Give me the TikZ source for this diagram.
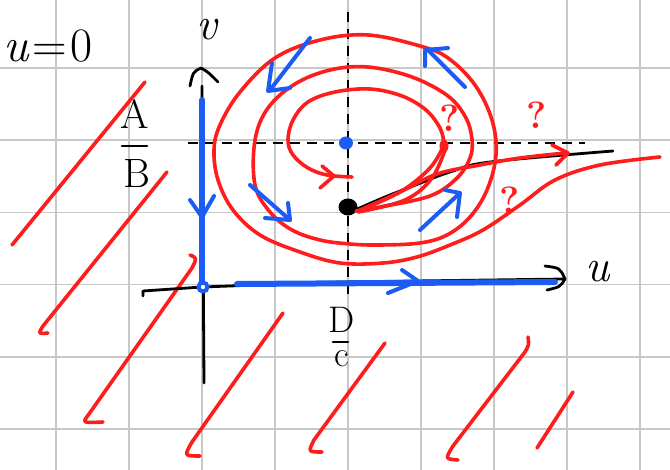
\documentclass[tikz,border=0pt]{standalone}
\usepackage{fontspec}
\usepackage{tikz}
\definecolor{penred}{RGB}{255,28,28}
\definecolor{penblue}{RGB}{28,92,245}
\definecolor{gridgray}{RGB}{200,200,200}
\begin{document}
\begin{tikzpicture}[x=1pt,y=-1pt,
  gridline/.style={draw=gridgray,line width=1.5pt},
  redpen/.style={draw=penred,line width=3.6pt,line cap=round,line join=round},
  bluepen/.style={draw=penblue,line width=4pt,line cap=round,line join=round},
  blueaxis/.style={draw=penblue,line width=6pt,line cap=round,line join=round},
  ink/.style={draw=black,line width=2.8pt,line cap=round,line join=round},
  dashink/.style={draw=black,line width=2.4pt,dash pattern=on 10pt off 7pt},
  lbl/.style={inner sep=0pt,text=black},
  qmark/.style={inner sep=0pt,text=penred,font=\fontsize{38}{40}\selectfont\bfseries}]
\useasboundingbox (0,0) rectangle (670,470);
\fill[white] (0,0) rectangle (670,470);
% grid
\foreach \gx in {56,129,202,275,348,421,494,567,640} \draw[gridline] (\gx,0) -- (\gx,470);
\foreach \gy in {68,140.2,212.4,284.6,356.8,429} \draw[gridline] (0,\gy) -- (670,\gy);
% red hatching
\draw[redpen] (145,82) -- (12,245);
\draw[redpen] (167,172) -- (43,326) .. controls (38,334) .. (48,333);
\draw[redpen] (190,255) .. controls (197,258) .. (192,268) -- (89,414) .. controls (82,423) .. (103,422);
\draw[redpen] (283,313) -- (192,442) .. controls (184,456) .. (200,456);
\draw[redpen] (385,343) -- (314,440) .. controls (308,452) .. (322,452);
\draw[redpen] (528,337) .. controls (529,345) .. (525,352) -- (453,446) .. controls (445,459) .. (458,460);
\draw[redpen] (573,392) -- (537,448);
% dashed lines
\draw[dashink] (348,12) -- (348,300);
\draw[dashink] (188,143) -- (585,143);
% black axes
\draw[ink] (202,86) -- (204,383);
\draw[ink] (190,86) .. controls (193,72) .. (201,68) .. controls (208,72) .. (218,82);
\draw[ink] (143,296) -- (143,291) -- (202,287) -- (340,282) -- (565,279);
\draw[ink] (545,266) .. controls (560,268) .. (565,279) .. controls (560,287) .. (547,290);
% black curve
\draw[ink] plot[smooth,tension=0.6] coordinates {(355,210) (385,197) (413,186) (450,172) (490,162) (613,151)};
% blue axes
\draw[blueaxis] (202,100) -- (202,284);
\draw[blueaxis] (237,284) -- (555,282);
\draw[bluepen] (190,200) -- (202,217) -- (214,196);
\draw[bluepen] (402,270) -- (418,281) -- (388,293);
\draw[draw=penblue,line width=4pt,fill=white] (203,287) circle (4.5);
\fill[penblue] (346,143) ellipse (7 and 6.5);
% black dot
\fill[black] (348,207) ellipse (9.5 and 8.5);
% red spirals
\draw[redpen] plot[smooth,tension=0.6] coordinates {(356,211) (380,207) (430,196) (457,178) (470,158) (472,140) (466,118) (448,96) (412,77) (368,67) (330,70) (295,84) (268,108) (255,140) (255,185) (270,212) (292,230) (320,240) (350,244) (380,245) (420,243) (447,235) (470,217) (487,190) (496,155) (492,120) (475,85) (448,58) (420,46) (368,35) (320,40) (275,58) (240,92) (220,125) (214,150) (218,180) (233,210) (260,235) (300,252) (340,263) (383,263) (417,257) (450,245) (483,230) (520,205) (555,180) (600,165) (660,157)};
\draw[redpen] plot[smooth,tension=0.6] coordinates {(352,177) (327,175) (308,168) (293,155) (288,140) (293,120) (308,102) (335,92) (370,89) (402,96) (426,110) (440,128) (444,143)};
\draw[redpen] plot[smooth,tension=0.6] coordinates {(358,211) (400,192) (430,168) (444,145)};
\draw[redpen] plot[smooth,tension=0.6] coordinates {(358,212) (405,200) (432,178) (446,147)};
\draw[redpen] plot[smooth,tension=0.6] coordinates {(358,211) (400,192) (437,174) (480,165) (520,158) (566,153)};
\fill[penred] (444,146) ellipse (4.5 and 6.5);
\draw[redpen] (322,166) -- (334,176) -- (320,188);
\draw[redpen] (552,145) -- (568,153) -- (556,165);
% blue arrows
\draw[bluepen] (310,38) -- (270,90);
\draw[bluepen] (272,63) -- (268,91) -- (290,88);
\draw[bluepen] (465,87) -- (428,50);
\draw[bluepen] (425,66) -- (425,50) -- (448,48);
\draw[bluepen] (250,185) -- (290,220);
\draw[bluepen] (265,218) -- (290,220) -- (288,203);
\draw[bluepen] (420,230) -- (460,193);
\draw[bluepen] (445,190) -- (460,193) -- (457,217);
% labels
\node[lbl,anchor=base west,font=\fontsize{48}{50}\selectfont] (eqlbl) at (3,62) {\itshape u\upshape\hspace{4pt}=\hspace{4pt}0};
\node[lbl,font=\fontsize{46}{48}\selectfont\itshape] (vlbl) at (207,30) {v};
\node[lbl,font=\fontsize{46}{48}\selectfont\itshape] (ulbl) at (598,272) {u};
\node[lbl,font=\fontsize{41}{43}\selectfont] (alb) at (135,114) {A};
\node[lbl,font=\fontsize{41}{43}\selectfont] (blb) at (137,174) {B};
\draw[ink] (122,146) -- (147,146);
\node[lbl,font=\fontsize{37}{39}\selectfont] (dlb) at (342,320) {D};
\draw[ink] (333,342) -- (348,342);
\node[lbl,font=\fontsize{36}{38}\selectfont] (clb) at (342,359) {c};
\node[qmark] (q1) at (450,118) {?};
\node[qmark] (q2) at (537,115) {?};
\node[qmark] (q3) at (510,200) {?};
\end{tikzpicture}
\end{document}
